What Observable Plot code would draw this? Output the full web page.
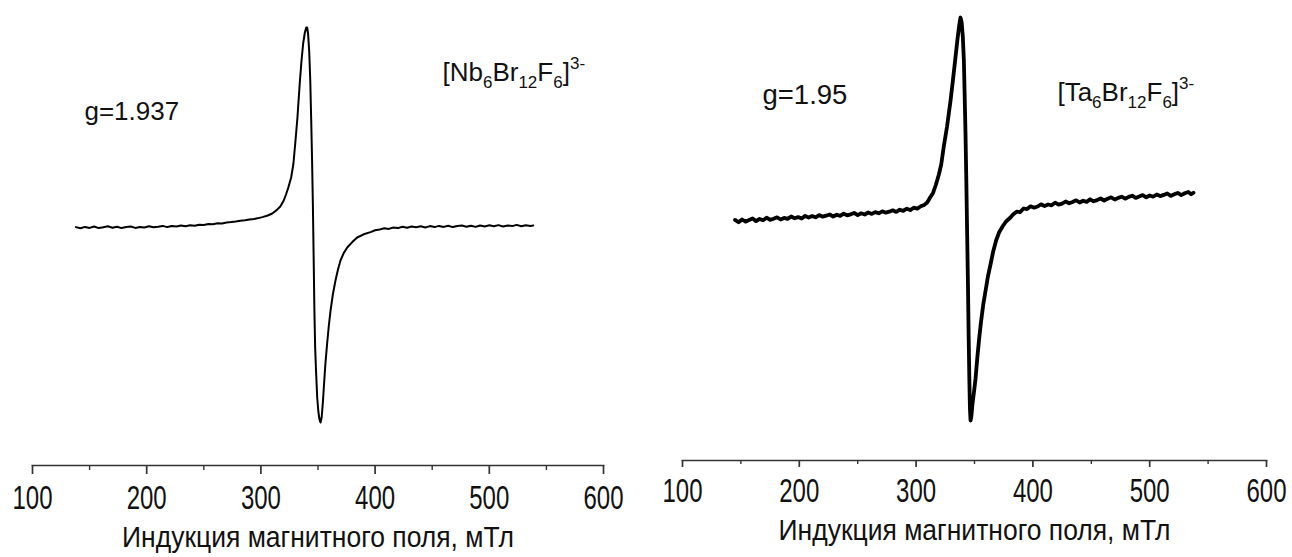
<!DOCTYPE html>
<html>
<head>
<meta charset="utf-8">
<script src="https://cdn.jsdelivr.net/npm/d3@7"></script>
<script src="https://cdn.jsdelivr.net/npm/@observablehq/plot@0.6"></script>
<style>
  html, body { margin: 0; padding: 0; background: #fff; }
  #wrap { display: flex; width: 1292px; height: 557px; overflow: hidden; }
  #wrap svg { display: block; flex: none; }
</style>
</head>
<body>
<div id="wrap"></div>
<script>
// ---------- data ----------
const majorTicks = [100, 200, 300, 400, 500, 600];
const minorTicks = [150, 250, 350, 450, 550];
const xTitle = "Индукция магнитного поля, мТл";

// Left spectrum: [Nb6Br12F6]3-
const nbField = [138,142,146,150,154,158,162,166,170,174,178,182,186,190,194,198,202,206,210,214,218,222,226,230,234,238,242,246,250,254,258,262,266,270,274,278,282,286,290,294,298,302,306,310,314,317,320,322,324,326.5,328.5,330.3,332,334,335.5,337,338.5,339.7,340.5,341.3,342.3,343.2,344,344.8,345.5,346.2,346.8,347.5,348.3,349.3,350.3,351.3,352.2,353.2,354.2,355.1,356.5,358,359.5,361,363,365.3,367.5,369.7,372.5,375.6,380,384.3,390,396,400,404,408,412,416,420,424,428,432,436,440,444,448,452,456,460,464,468,472,476,480,484,488,492,496,500,504,508,512,516,520,524,528,532,536,538.5];
const nbSignal = [0.2,-0.4,0.3,-0.2,0.5,-0.3,0.1,0.6,-0.1,0.4,-0.3,0.2,0.5,-0.2,0.3,0.0,0.6,0.1,0.4,0.8,0.2,0.7,0.5,1.0,0.6,1.1,0.9,1.4,1.2,1.7,1.6,2.1,2.0,2.5,2.7,3.0,3.4,3.6,4.0,4.3,4.7,5.3,6.0,7.0,8.8,10.5,13.5,16.5,20,25,32,43.5,55,72,83,92,97.5,100,100,97,88,74,55,34,12,-15,-40,-60,-72,-85,-92,-96,-97.5,-95,-88,-80,-68,-58,-49,-41.5,-33.5,-26.5,-21,-16.5,-12.8,-10,-7.3,-5,-3.4,-2.3,-1.4,-1.0,-0.4,-0.7,0.0,-0.3,0.4,-0.1,0.5,0.1,0.6,0.0,0.7,0.2,0.8,0.3,0.9,0.2,0.7,1.0,0.4,0.9,0.3,1.0,0.5,1.1,0.6,1.2,0.5,1.0,0.7,1.3,0.6,1.1,0.8,1.0];

// Right spectrum: [Ta6Br12F6]3-
const taField = [145,148,151,154,157,160,163,166,169,172,175,178,181,184,187,190,193,196,199,202,205,208,211,214,217,220,223,226,229,232,235,238,241,244,247,250,253,256,259,262,265,268,271,274,277,280,283,286,289,292,295,298,301,304,307,
  309.5,312,314.5,317,319.5,321.5,323.7,326.5,329.5,331.5,333.7,335.5,337,338,339,340,340.9,341.6,342.3,343,343.7,344.4,345,345.6,346.1,346.6,347.3,348.2,349.5,350.9,352.5,354,355.5,357.5,359.5,361.5,363.7,366,368.5,371,374,377,380.8,
  383,386,389,392,395,398,401,404,407,410,413,416,419,422,425,428,431,434,437,440,443,446,449,452,455,458,461,464,467,470,473,476,479,482,485,488,491,494,497,500,503,506,509,512,515,518,521,524,527,530,533,535.5,537.5];
const taSignal = [0.3,-0.9,0.5,-0.6,0.2,1.0,-0.3,0.8,0.1,1.4,0.3,0.9,1.6,0.5,1.3,0.8,2.0,1.1,1.7,1.0,2.3,1.5,2.2,1.6,2.7,1.9,2.4,3.0,2.0,2.9,2.3,3.4,2.6,3.1,3.8,2.7,3.6,3.0,4.0,3.3,4.2,3.6,4.6,3.9,4.4,5.1,4.3,5.4,4.8,5.9,5.2,6.4,5.9,7.1,7.8,
  9.0,11.5,13.8,18,23,28,37,47,60,70,81.5,91,98,101.5,99,92,80,62,43.5,20,-6.5,-32,-58,-80,-94,-100,-98,-92,-86,-79,-68,-59,-51,-42,-35,-28,-22,-15.5,-10,-6,-3,-0.5,1.5,
  3.0,4.4,4.2,6.0,5.7,7.1,6.4,7.0,8.1,7.2,8.0,7.6,8.9,7.9,8.4,9.5,8.6,9.3,10.1,9.0,9.9,9.3,10.6,9.6,10.2,11.0,10.0,10.9,11.6,10.5,11.3,11.9,10.9,11.8,12.4,11.3,12.0,12.7,11.6,12.5,11.9,13.0,12.2,12.8,13.5,12.3,13.1,13.8,12.7,13.6,14.3,13.1,13.9];

// annotations
const nbG = "g=1.937";
const taG = "g=1.95";
const nbFormula = [["[Nb", 0], ["6", -1], ["Br", 0], ["12", -1], ["F", 0], ["6", -1], ["]", 0], ["3-", 1]];
const taFormula = [["[Ta", 0], ["6", -1], ["Br", 0], ["12", -1], ["F", 0], ["6", -1], ["]", 0], ["3-", 1]];

// ---------- drawing ----------
const FONT = "'Liberation Sans', Arial, Helvetica, sans-serif";

function formulaText(parts) { return parts.map(p => p[0]).join(""); }

function panel(cfg) {
  const data = cfg.field.map((f, i) => ({field: f, signal: cfg.signal[i]}));
  const notes = [
    {field: cfg.gPos[0], signal: cfg.gPos[1], label: cfg.g, size: cfg.gSize},
    {field: cfg.fPos[0], signal: cfg.fPos[1], label: formulaText(cfg.formula), size: 26}
  ];
  const svg = Plot.plot({
    width: 646,
    height: 557,
    marginLeft: cfg.ml,
    marginRight: cfg.mr,
    marginTop: 0,
    marginBottom: cfg.mb,
    style: {fontFamily: FONT, background: "#fff", color: "#111", overflow: "visible"},
    x: {domain: [100, 600]},
    y: {domain: cfg.yDomain, axis: null},
    marks: [
      Plot.frame({anchor: "bottom", stroke: "#333", strokeWidth: 1.7}),
      Plot.axisX({ticks: majorTicks, tickSize: cfg.tick, tickPadding: cfg.pad, fontSize: 24,
                  tickFormat: d => String(d), stroke: "#333", strokeWidth: 1.7, label: null, fill: "#111"}),
      Plot.axisX({ticks: minorTicks, tickSize: Math.round(cfg.tick * 0.55), tickFormat: () => "",
                  stroke: "#333", strokeWidth: 1.4, label: null}),
      Plot.text([xTitle], {frameAnchor: "bottom", dy: cfg.titleDy, fontSize: 26.5, fill: "#111"}),
      Plot.line(data, {x: "field", y: "signal", stroke: "#000", strokeWidth: cfg.sw, curve: "linear", strokeLinejoin: "round"}),
      Plot.text(notes, {x: "field", y: "signal", text: "label", textAnchor: "start", lineAnchor: "bottom",
                        fontSize: "size", fill: "#111"})
    ]
  });

  // condensed look for axis text (tall, narrow glyphs in the original)
  d3.select(svg).selectAll('g[aria-label="x-axis tick label"] text').each(function() {
    const t = this.getAttribute("transform") || "";
    this.setAttribute("transform", t + " scale(1,1.35)");
  });
  d3.select(svg).selectAll('g[aria-label="text"] text').each(function() {
    if (this.textContent === xTitle) {
      const t = this.getAttribute("transform") || "";
      this.setAttribute("transform", t + " scale(1,1.1)");
    }
  });

  // rich text for the chemical formula
  const plain = formulaText(cfg.formula);
  d3.select(svg).selectAll("text").each(function() {
    if (this.textContent !== plain) return;
    const el = d3.select(this);
    el.text(null);
    let cur = 0;
    for (const [s, lvl] of cfg.formula) {
      const target = lvl < 0 ? 7 : lvl > 0 ? -12 : 0;
      const ts = el.append("tspan").text(s).attr("dy", (target - cur) + "px");
      if (lvl !== 0) ts.attr("font-size", "17px");
      cur = target;
    }
  });
  return svg;
}

const wrap = document.getElementById("wrap");
wrap.appendChild(panel({
  field: nbField, signal: nbSignal, ml: 32, mr: 43, mb: 92, yDomain: [-119, 113.5],
  tick: 9, pad: 11, titleDy: 81, sw: 2,
  g: nbG, gSize: 26, gPos: [145.5, 54], formula: nbFormula, fPos: [459, 73.5]
}));
wrap.appendChild(panel({
  field: taField, signal: taSignal, ml: 36, mr: 26, mb: 97, yDomain: [-120, 110],
  tick: 7, pad: 11, titleDy: 79, sw: 3.8,
  g: taG, gSize: 27.5, gPos: [168.5, 58.5], formula: taFormula, fPos: [421, 60]
}));
</script>
</body>
</html>
